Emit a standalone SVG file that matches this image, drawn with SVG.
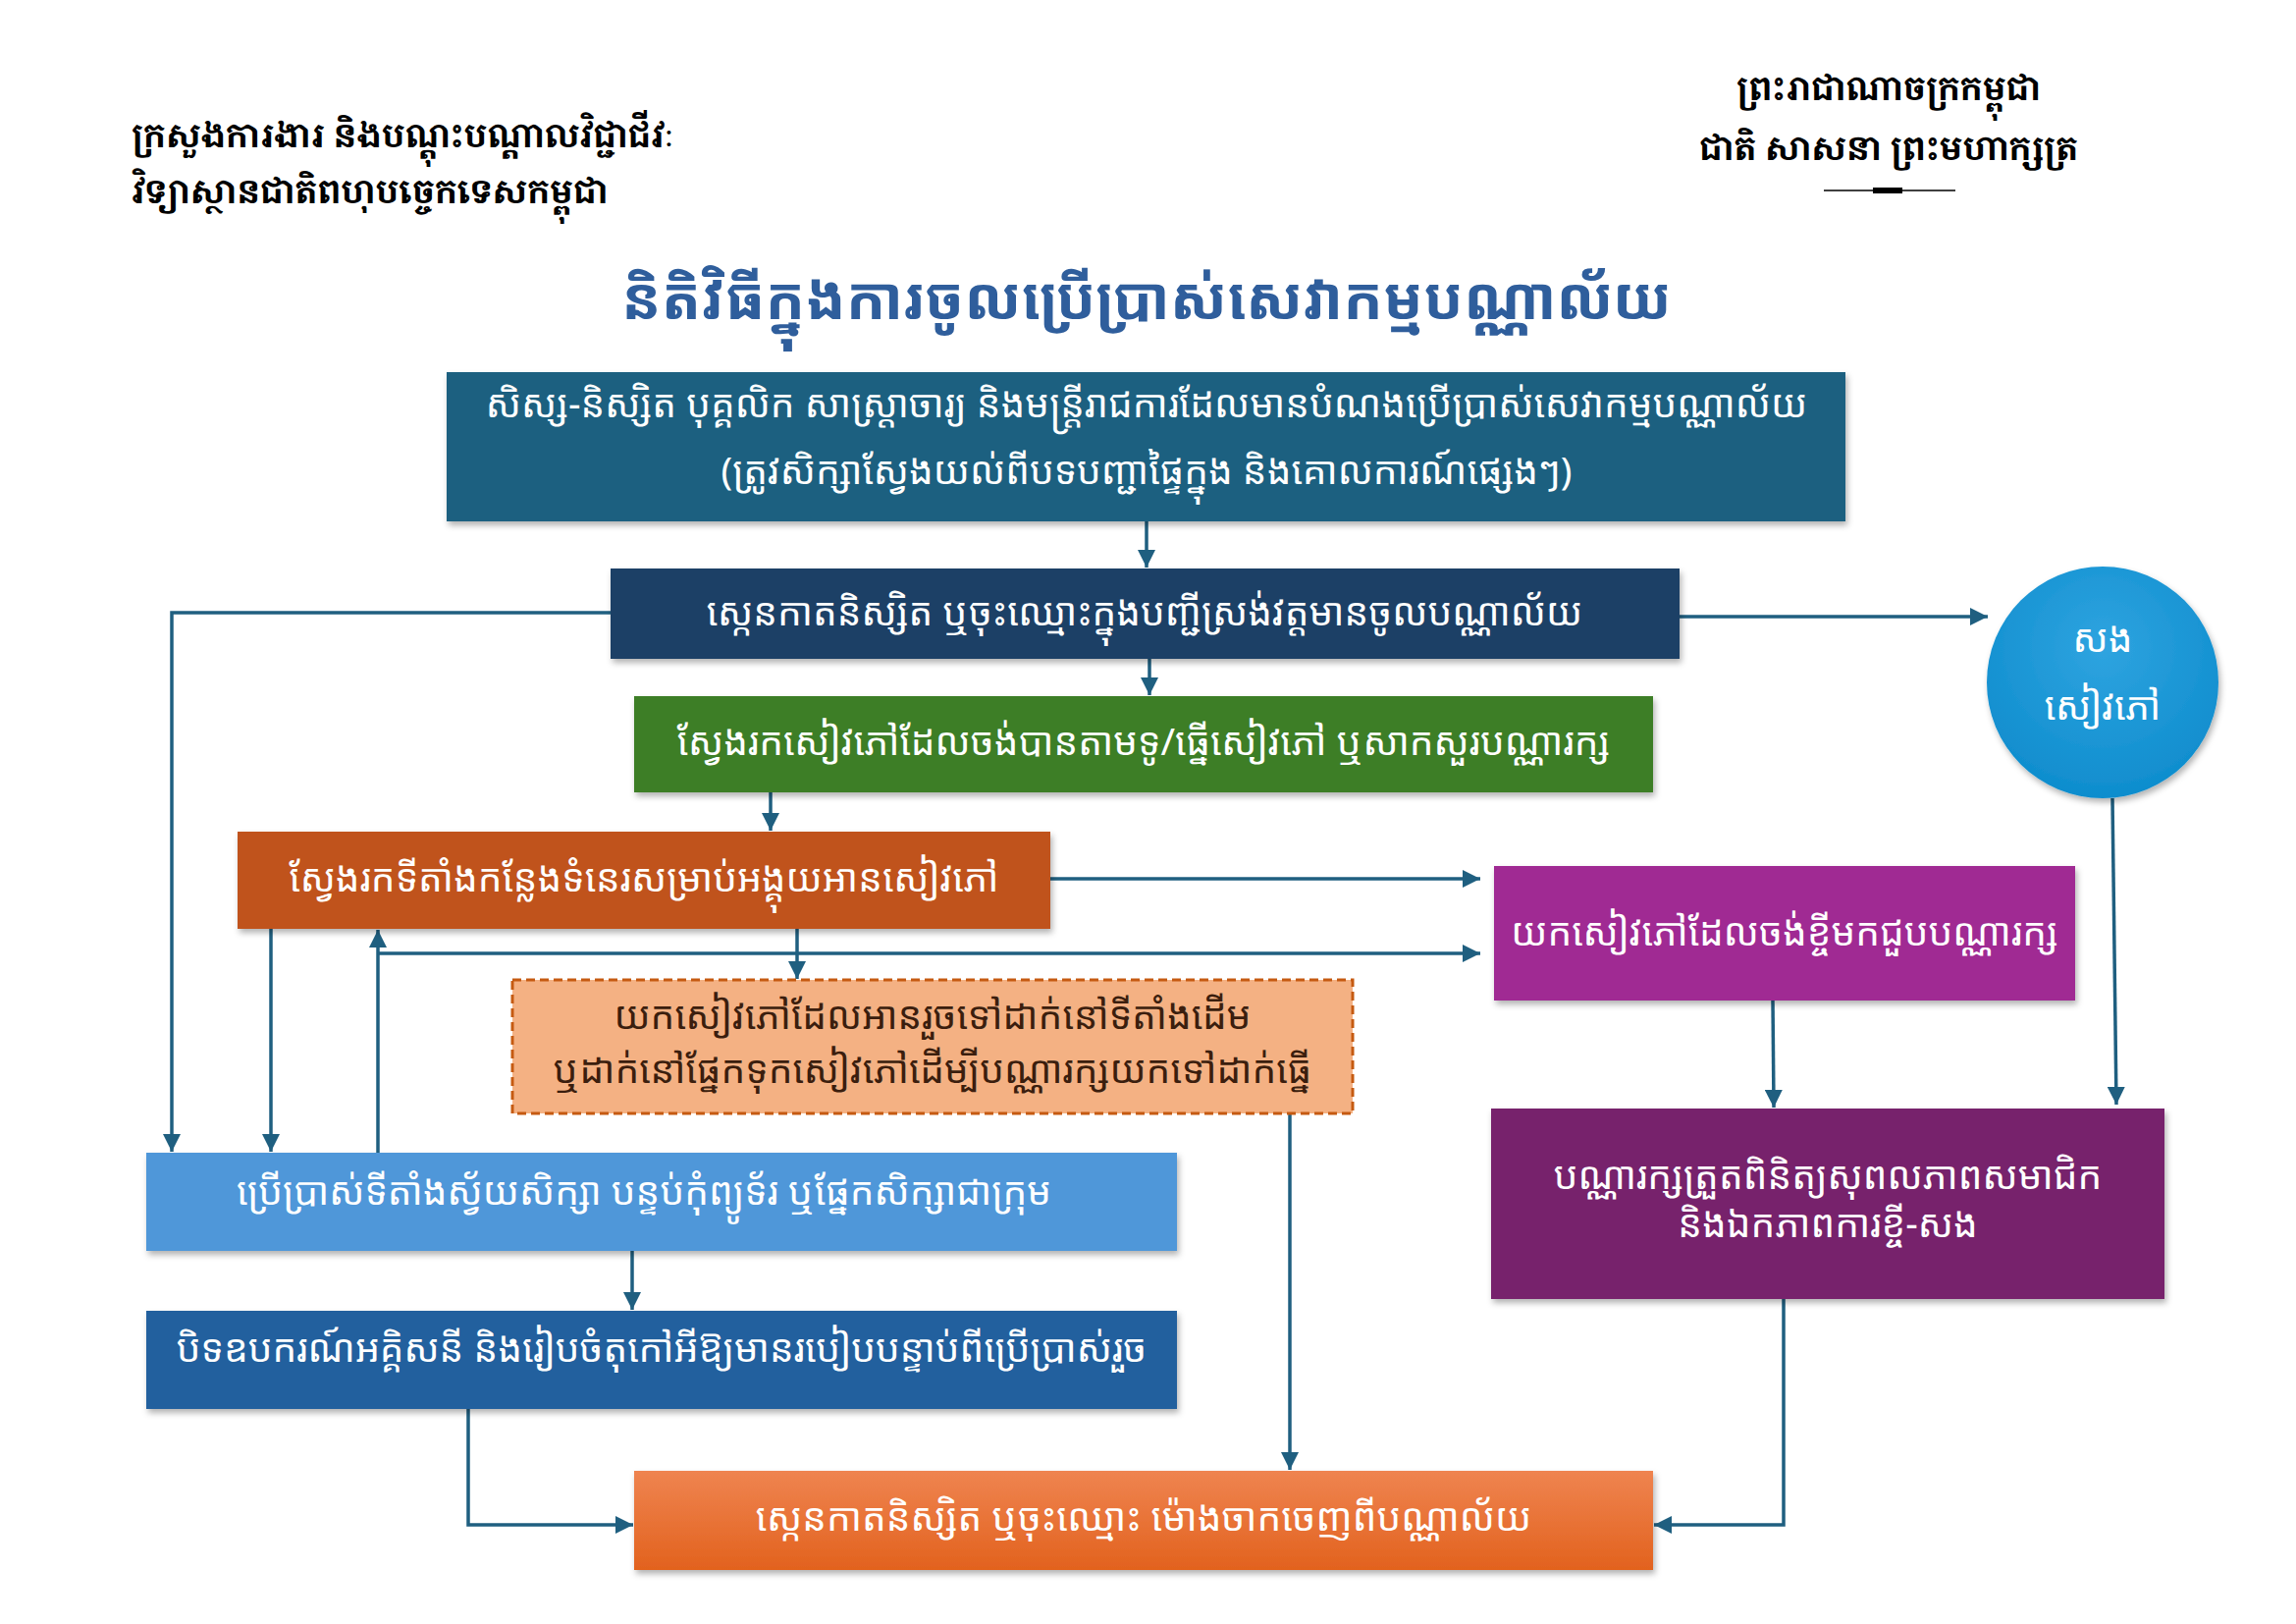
<svg xmlns="http://www.w3.org/2000/svg" width="2339" height="1654" viewBox="0 0 2339 1654">
<defs>
<style>
.t{font-family:"Noto Sans Khmer","Noto Serif Khmer","Khmer OS Battambang","Khmer OS","Noto Sans",sans-serif;fill:#ffffff;font-size:39px;text-anchor:middle;}
.h{font-family:"Khmer OS Muol Light","Noto Serif Khmer","Noto Sans Khmer","Noto Sans",sans-serif;fill:#000000;font-size:34px;font-weight:bold;}
.c{fill:none;stroke:#1f5f80;stroke-width:3.5;}
</style>
<marker id="a" viewBox="0 0 10 10" refX="10" refY="5" markerWidth="18" markerHeight="18" orient="auto" markerUnits="userSpaceOnUse">
<path d="M0,0 L10,5 L0,10 z" fill="#1f5f80"/>
</marker>
<filter id="sh" x="-5%" y="-10%" width="110%" height="130%">
<feDropShadow dx="2" dy="4" stdDeviation="3" flood-color="#000" flood-opacity="0.3"/>
</filter>
<linearGradient id="gOr" x1="0" y1="0" x2="0" y2="1">
<stop offset="0" stop-color="#ef8450"/>
<stop offset="1" stop-color="#e2621e"/>
</linearGradient>
<radialGradient id="gCi" cx="0.5" cy="0.35" r="0.7">
<stop offset="0" stop-color="#2fa4e0"/>
<stop offset="1" stop-color="#0c8bcc"/>
</radialGradient>
</defs>
<rect width="2339" height="1654" fill="#ffffff"/>

<g id="header-left">
<text class="h" x="134" y="150">ក្រសួងការងារ និងបណ្តុះបណ្តាលវិជ្ជាជីវៈ</text>
<text class="h" x="134" y="207">វិទ្យាស្ថានជាតិពហុបច្ចេកទេសកម្ពុជា</text>
</g>
<g id="header-right">
<text class="h" x="1924" y="102" text-anchor="middle">ព្រះរាជាណាចក្រកម្ពុជា</text>
<text class="h" x="1924" y="163" text-anchor="middle">ជាតិ សាសនា ព្រះមហាក្សត្រ</text>
<line x1="1858" y1="194" x2="1992" y2="194" stroke="#000" stroke-width="1.5"/>
<rect x="1908" y="191" width="30" height="6" fill="#000"/>
</g>
<g id="title">
<text x="1168" y="325" text-anchor="middle" font-family="'Noto Sans Khmer','Noto Serif Khmer','Khmer OS Muol Light','Noto Sans',sans-serif" font-size="60" font-weight="bold" fill="#2f5e9c">និតិវិធីក្នុងការចូលប្រើប្រាស់សេវាកម្មបណ្ណាល័យ</text>
</g>

<g id="connectors">
<line class="c" x1="1168" y1="531" x2="1168" y2="578" marker-end="url(#a)"/>
<line class="c" x1="1171" y1="671" x2="1171" y2="708" marker-end="url(#a)"/>
<line class="c" x1="785" y1="807" x2="785" y2="846" marker-end="url(#a)"/>
<line class="c" x1="1711" y1="628" x2="2025" y2="628" marker-end="url(#a)"/>
<polyline class="c" points="622,624 175,624 175,1173" marker-end="url(#a)"/>
<line class="c" x1="276" y1="946" x2="276" y2="1173" marker-end="url(#a)"/>
<line class="c" x1="385" y1="1174" x2="385" y2="947" marker-end="url(#a)"/>
<line class="c" x1="385" y1="971" x2="1508" y2="971" marker-end="url(#a)"/>
<line class="c" x1="812" y1="946" x2="812" y2="997" marker-end="url(#a)"/>
<line class="c" x1="1070" y1="895" x2="1508" y2="895" marker-end="url(#a)"/>
<line class="c" x1="1314" y1="1134" x2="1314" y2="1497" marker-end="url(#a)"/>
<line class="c" x1="644" y1="1274" x2="644" y2="1334" marker-end="url(#a)"/>
<polyline class="c" points="477,1435 477,1553 645,1553" marker-end="url(#a)"/>
<line class="c" x1="1806" y1="1019" x2="1807" y2="1128" marker-end="url(#a)"/>
<line class="c" x1="2152" y1="813" x2="2156" y2="1125" marker-end="url(#a)"/>
<polyline class="c" points="1817,1323 1817,1553 1685,1553" marker-end="url(#a)"/>
</g>

<g id="n1">
<rect x="455" y="379" width="1425" height="152" fill="#1d6080" filter="url(#sh)"/>
<text class="t" x="1168" y="425">សិស្ស-និស្សិត បុគ្គលិក សាស្ត្រាចារ្យ និងមន្ត្រីរាជការដែលមានបំណងប្រើប្រាស់សេវាកម្មបណ្ណាល័យ</text>
<text class="t" x="1168" y="493">(ត្រូវសិក្សាស្វែងយល់ពីបទបញ្ជាផ្ទៃក្នុង និងគោលការណ៍ផ្សេងៗ)</text>
</g>
<g id="n2">
<rect x="622" y="579" width="1089" height="92" fill="#1e3f66" filter="url(#sh)"/>
<text class="t" x="1166" y="637">ស្កេនកាតនិស្សិត ឬចុះឈ្មោះក្នុងបញ្ជីស្រង់វត្តមានចូលបណ្ណាល័យ</text>
</g>
<g id="n3">
<rect x="646" y="709" width="1038" height="98" fill="#3e7e27" filter="url(#sh)"/>
<text class="t" x="1165" y="769">ស្វែងរកសៀវភៅដែលចង់បានតាមទូ/ធ្នើសៀវភៅ ឬសាកសួរបណ្ណារក្ស</text>
</g>
<g id="n4">
<rect x="242" y="847" width="828" height="99" fill="#c0521a" filter="url(#sh)"/>
<text class="t" x="656" y="908">ស្វែងរកទីតាំងកន្លែងទំនេរសម្រាប់អង្គុយអានសៀវភៅ</text>
</g>
<g id="n5">
<rect x="522" y="998" width="856" height="136" fill="#f4b183" stroke="#c55a11" stroke-width="3" stroke-dasharray="9,5"/>
<text class="t" x="950" y="1048" style="fill:#3b1e0e">យកសៀវភៅដែលអានរួចទៅដាក់នៅទីតាំងដើម</text>
<text class="t" x="950" y="1103" style="fill:#3b1e0e">ឬដាក់នៅផ្នែកទុកសៀវភៅដើម្បីបណ្ណារក្សយកទៅដាក់ធ្នើ</text>
</g>
<g id="n6">
<rect x="149" y="1174" width="1050" height="100" fill="#4f97d9" filter="url(#sh)"/>
<text class="t" x="656" y="1227">ប្រើប្រាស់ទីតាំងស្វ័យសិក្សា បន្ទប់កុំព្យូទ័រ ឬផ្នែកសិក្សាជាក្រុម</text>
</g>
<g id="n7">
<rect x="149" y="1335" width="1050" height="100" fill="#23609e" filter="url(#sh)"/>
<text class="t" x="674" y="1387">បិទឧបករណ៍អគ្គិសនី និងរៀបចំតុកៅអីឱ្យមានរបៀបបន្ទាប់ពីប្រើប្រាស់រួច</text>
</g>
<g id="n8">
<rect x="1522" y="882" width="592" height="137" fill="#a02b93" filter="url(#sh)"/>
<text class="t" x="1818" y="963">យកសៀវភៅដែលចង់ខ្ចីមកជួបបណ្ណារក្ស</text>
</g>
<g id="n9">
<circle cx="2142" cy="695" r="118" fill="url(#gCi)" filter="url(#sh)"/>
<text class="t" x="2142" y="664">សង</text>
<text class="t" x="2142" y="733">សៀវភៅ</text>
</g>
<g id="n10">
<rect x="1519" y="1129" width="686" height="194" fill="#77216c" filter="url(#sh)"/>
<text class="t" x="1862" y="1211">បណ្ណារក្សត្រួតពិនិត្យសុពលភាពសមាជិក</text>
<text class="t" x="1862" y="1260">និងឯកភាពការខ្ចី-សង</text>
</g>
<g id="n11">
<rect x="646" y="1498" width="1038" height="101" fill="url(#gOr)" filter="url(#sh)"/>
<text class="t" x="1165" y="1559">ស្កេនកាតនិស្សិត ឬចុះឈ្មោះ ម៉ោងចាកចេញពីបណ្ណាល័យ</text>
</g>
</svg>
